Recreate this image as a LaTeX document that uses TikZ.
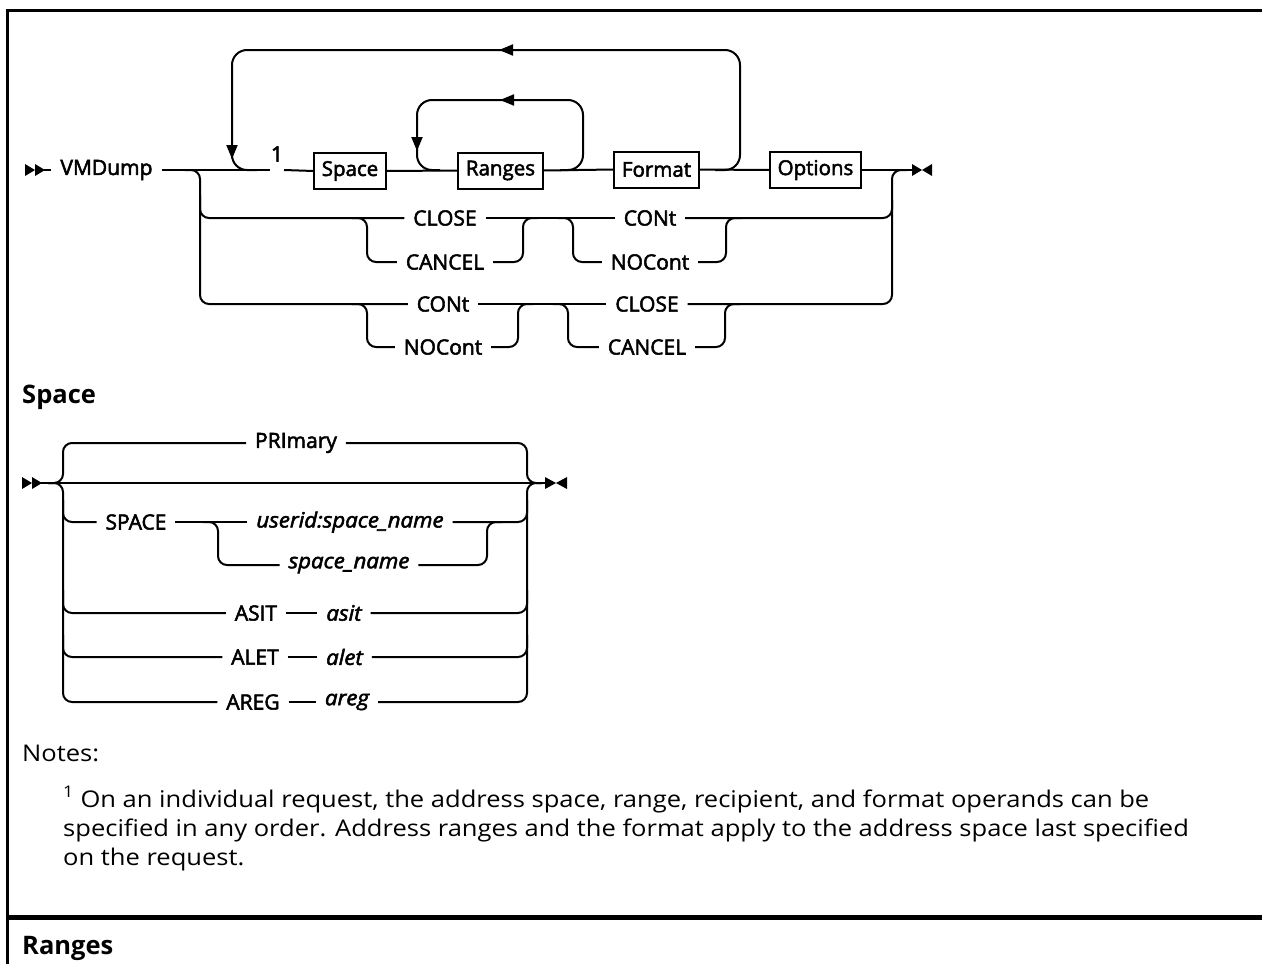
\documentclass[tikz,border=0pt]{standalone}
\usepackage{fontspec}
\setmainfont{Open Sans}
\newfontfamily\lblfont{Open Sans}[FakeBold=2.5]
\newfontfamily\varfont{Open Sans}[FakeBold=2.5, FakeStretch=1.06]
\newfontfamily\notefont{Open Sans}[FakeStretch=1.11]
\usetikzlibrary{arrows.meta}
\begin{document}
\begin{tikzpicture}[x=1pt,y=-1pt,
  track/.style={line width=2pt, rounded corners=9pt},
  loopline/.style={line width=2pt, rounded corners=15pt},
  lbl/.style={inner xsep=9pt, inner ysep=2pt, outer sep=0pt, font=\lblfont\fontsize{21}{25}\selectfont},
  var/.style={lbl, font=\varfont\itshape\fontsize{21}{25}\selectfont},
  boxnode/.style={draw, line width=2pt, inner xsep=8pt, inner ysep=0pt, minimum height=36pt, outer sep=0pt, font=\lblfont\fontsize{20.5}{24}\selectfont},
  tipline/.style={-{Triangle[length=14pt,width=11pt]}, line width=2pt},
  head/.style={anchor=base west, inner sep=0pt, font=\bfseries\fontsize{25.5}{30}\selectfont},
  note/.style={anchor=base west, inner sep=0pt, font=\notefont\fontsize{23}{28}\selectfont},
]
\useasboundingbox (0,0) rectangle (1262,964);
% frame
\draw[line width=3pt] (1270,10) -- (7,10) -- (7,980);
\draw[line width=5pt] (7,917) -- (1270,917);

% ===== main diagram =====
\fill (25,164) -- (35,170) -- (25,176) -- cycle;
\fill (35,164) -- (45,170) -- (35,176) -- cycle;
\coordinate (s1) at (44,170);
\node[lbl] (vm) at (106.5,170) {VMDump};
\draw[track] (s1) -- (vm.west);
\coordinate (g1) at (270,170);
\coordinate (g2) at (284,170);
\draw[track] (vm.east) -- (g1);
\node[lbl, inner sep=0pt] (one) at (277,154) {1};
\node[boxnode] (space) at (350,171) {Space};
\node[boxnode] (ranges) at (500.5,170.5) {Ranges};
\node[boxnode] (format) at (656.5,169.5) {Format};
\node[boxnode] (options) at (815.5,170) {Options};
\draw[track] (g2) -- (space.west);
\draw[track] (space.east) -- (ranges.west);
\draw[track] (ranges.east) -- (format.west);
\draw[track] (format.east) -- (options.west);
\coordinate (e1) at (913,170);
\draw[track] (options.east) -- (e1);
\fill (912,164) -- (922,170) -- (912,176) -- cycle;
\fill (932,164) -- (922,170) -- (932,176) -- cycle;

% big loop
\draw[loopline] (715,170) -- (740,170) -- (740,50) -- (232,50) -- (232,170) -- (257,170);
\draw[tipline] (515,50) -- (499,50);
\draw[tipline] (232,138) -- (232,159);
% ranges loop
\draw[loopline] (560,170) -- (583,170) -- (583,100) -- (417,100) -- (417,170) -- (440,170);
\draw[tipline] (516,100) -- (500,100);
\draw[tipline] (417,132) -- (417,151);

% alternatives
\node[lbl] (close1) at (445,218) {CLOSE};
\node[lbl] (cancel1) at (445,262) {CANCEL};
\node[lbl] (cont1) at (650,218) {CONt};
\node[lbl] (nocont1) at (650,262) {NOCont};
\node[lbl] (cont2) at (443,304) {CONt};
\node[lbl] (nocont2) at (443,347) {NOCont};
\node[lbl] (close2) at (647,304) {CLOSE};
\node[lbl] (cancel2) at (647,347) {CANCEL};

\draw[track] (185,170) -- (200,170) -- (200,304) -- (cont2.west);
\draw[track] (200,195) -- (200,218) -- (close1.west);
\draw[track] (352,218) -- (367,218) -- (367,262) -- (cancel1.west);
\draw[track] (cancel1.east) -- (523,262) -- (523,218) -- (538,218);
\draw[track] (close1.east) -- (cont1.west);
\draw[track] (558,218) -- (573,218) -- (573,262) -- (nocont1.west);
\draw[track] (nocont1.east) -- (726,262) -- (726,218) -- (741,218);
\draw[track] (cont1.east) -- (892,218) -- (892,170) -- (907,170);
\draw[track] (352,304) -- (367,304) -- (367,347) -- (nocont2.west);
\draw[track] (nocont2.east) -- (518,347) -- (518,304) -- (533,304);
\draw[track] (cont2.east) -- (close2.west);
\draw[track] (553,304) -- (568,304) -- (568,347) -- (cancel2.west);
\draw[track] (cancel2.east) -- (725,347) -- (725,304) -- (740,304);
\draw[track] (close2.east) -- (892,304) -- (892,200);

% ===== Space =====
\node[head] (hspace) at (22,403) {Space};
\fill (22,477) -- (32,483) -- (22,489) -- cycle;
\fill (32,477) -- (42,483) -- (32,489) -- cycle;
\coordinate (s2) at (41,483);
\coordinate (e2) at (546,483);
\draw[track] (s2) -- (e2);
\fill (545,477) -- (556,483) -- (545,489) -- cycle;
\fill (567,477) -- (556,483) -- (567,489) -- cycle;

\node[lbl] (prim) at (296,443) {PRImary};
\node[lbl] (spc) at (136,522) {SPACE};
\node[var] (usp) at (350,522) {userid:space\_name};
\node[var] (sn) at (349,565) {space\_name};
\node[lbl] (asit) at (256,613) {ASIT};
\node[var] (asitv) at (344,613) {asit};
\node[lbl] (alet) at (255,657) {ALET};
\node[var] (aletv) at (344.5,657) {alet};
\node[lbl] (areg) at (253,702) {AREG};
\node[var] (aregv) at (347,702) {areg};

\draw[track] (48,483) -- (63,483) -- (63,443) -- (prim.west);
\draw[track] (prim.east) -- (527,443) -- (527,483) -- (542,483);
\draw[track] (48,483) -- (63,483) -- (63,702) -- (areg.west);
\draw[track] (aregv.east) -- (527,702) -- (527,483) -- (542,483);
\draw[track] (areg.east) -- (aregv.west);
\draw[track] (63,500) -- (63,522) -- (spc.west);
\draw[track] (spc.east) -- (usp.west);
\draw[track] (203,522) -- (218,522) -- (218,565) -- (sn.west);
\draw[track] (sn.east) -- (487,565) -- (487,522) -- (502,522);
\draw[track] (usp.east) -- (527,522) -- (527,500);
\draw[track] (63,590) -- (63,613) -- (asit.west);
\draw[track] (asit.east) -- (asitv.west);
\draw[track] (asitv.east) -- (527,613) -- (527,590);
\draw[track] (63,635) -- (63,657) -- (alet.west);
\draw[track] (alet.east) -- (aletv.west);
\draw[track] (aletv.east) -- (527,657) -- (527,635);

% ===== Notes =====
\node[note] (notes) at (22,761) {Notes:};
\node[note] (fn1) at (63,807) {\textsuperscript{1} On an individual request, the address space, range, recipient, and format operands can be};
\node[note] (fn2) at (63,836) {specified in any order. Address ranges and the format apply to the address space last specified};
\node[note] (fn3) at (63,865) {on the request.};
\node[head] (hranges) at (22,954) {Ranges};
\end{tikzpicture}
\end{document}
